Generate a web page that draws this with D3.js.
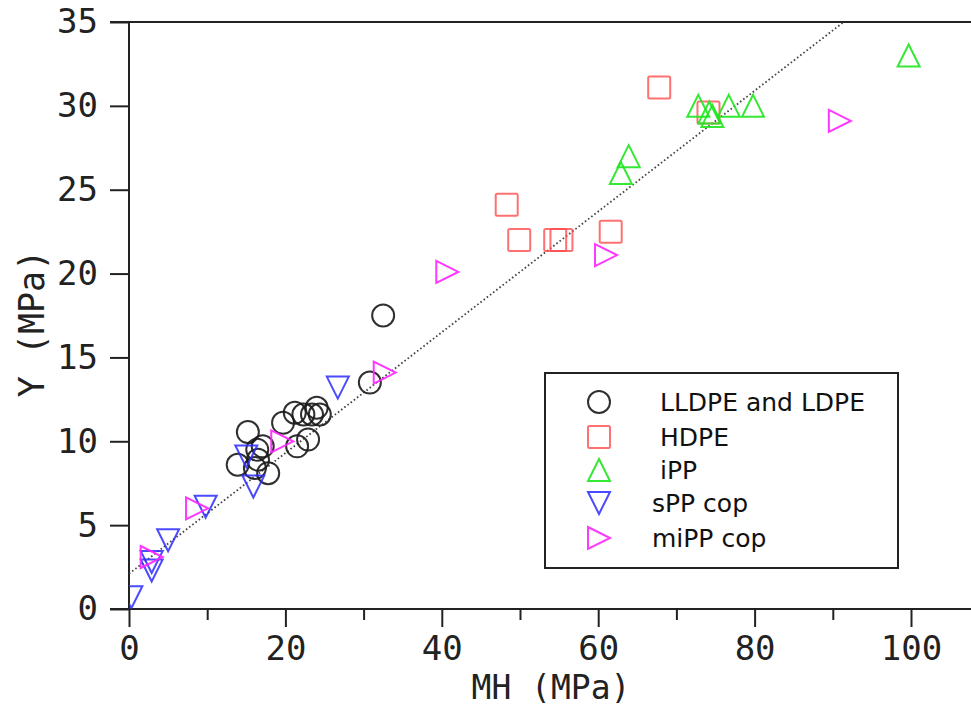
<!DOCTYPE html>
<html>
<head>
<meta charset="utf-8">
<script src="https://cdn.jsdelivr.net/npm/d3@7/dist/d3.min.js"></script>
<style>
  html, body { margin: 0; padding: 0; background: #fff; }
  svg { display: block; }
</style>
</head>
<body>
<svg id="chart" width="971" height="707"></svg>
<script>
// ---- data ----
const lldpeX = [32.5, 30.8, 15.2, 13.9, 16.4, 16.5, 16.1, 17.8, 17.1, 19.7, 21.5, 22.9, 21.2, 22.3, 23.4, 24.0, 24.4];
const lldpeY = [17.5, 13.5, 10.55, 8.6, 9.5, 8.9, 8.4, 8.1, 9.7, 11.1, 9.7, 10.1, 11.7, 11.6, 11.6, 12.0, 11.6];
const hdpeX = [48.3, 49.9, 54.5, 55.3, 61.6, 67.8, 74.1];
const hdpeY = [24.1, 22.0, 22.0, 22.0, 22.5, 31.1, 29.6];
const ippX = [99.7, 62.9, 63.9, 72.8, 74.2, 74.6, 76.7, 79.8];
const ippY = [33.0, 26.0, 27.0, 30.0, 29.6, 29.4, 30.0, 30.0];
const sppX = [26.7, 15.0, 15.9, 9.8, 5.0, 2.9, 2.9, 0.3];
const sppY = [13.2, 9.1, 7.3, 6.1, 4.1, 2.8, 2.3, 0.7];
const mippX = [32.7, 19.6, 8.7, 2.9, 40.7, 61.0, 90.9];
const mippY = [14.1, 10.0, 6.0, 3.1, 20.1, 21.1, 29.1];
const fitIntercept = 2.1;
const fitSlope = 0.36;
const xTicks = [0, 20, 40, 60, 80, 100];
const xMinorTicks = [10, 30, 50, 70, 90];
const yTicks = [0, 5, 10, 15, 20, 25, 30, 35];
const seriesNames = ["LLDPE and LDPE", "HDPE", "iPP", "sPP cop", "miPP cop"];

(function () {
// ---- layout ----
const svg = d3.select("#chart");
const mLeft = 129, mTop = 22, mBottom = 609;
const x = d3.scaleLinear().domain([0, 110]).range([mLeft, mLeft + 7.82 * 110]);
const y = d3.scaleLinear().domain([0, 35]).range([mBottom, mTop]);

const monoFont = "'DejaVu Sans Mono', monospace";

// clip
svg.append("defs").append("clipPath").attr("id", "clip")
  .append("rect").attr("x", mLeft).attr("y", mTop).attr("width", 971 - mLeft).attr("height", mBottom - mTop);

// top frame
svg.append("line").attr("x1", mLeft - 19).attr("x2", 971).attr("y1", y(35)).attr("y2", y(35))
  .attr("stroke", "#222").attr("stroke-width", 2);

// x axis
const xAxis = svg.append("g").attr("transform", `translate(0,${mBottom})`)
  .call(d3.axisBottom(x).tickValues(xTicks).tickSize(18).tickPadding(6).tickFormat(d3.format("d")));
svg.append("g").attr("transform", `translate(0,${mBottom})`)
  .call(d3.axisBottom(x).tickValues(xMinorTicks).tickSize(11).tickFormat(""))
  .call(g => g.select(".domain").remove());
xAxis.select(".domain").remove();
svg.append("line").attr("x1", mLeft - 19).attr("x2", 971).attr("y1", mBottom).attr("y2", mBottom)
  .attr("stroke", "#222").attr("stroke-width", 2);

// y axis
const yAxis = svg.append("g").attr("transform", `translate(${mLeft},0)`)
  .call(d3.axisLeft(y).tickValues(yTicks).tickSize(19).tickPadding(12).tickFormat(d3.format("d")));
yAxis.select(".domain").remove();
svg.append("line").attr("x1", mLeft).attr("x2", mLeft).attr("y1", mTop).attr("y2", mBottom)
  .attr("stroke", "#222").attr("stroke-width", 2);

svg.selectAll(".tick line").attr("stroke", "#222").attr("stroke-width", 2);
svg.selectAll(".tick text").attr("font-family", monoFont).attr("font-size", 34).attr("fill", "#222");
xAxis.selectAll(".tick text").attr("dy", "0.78em");

// axis titles
svg.append("text").attr("x", 551).attr("y", 699).attr("text-anchor", "middle")
  .attr("font-family", monoFont).attr("font-size", 33).attr("fill", "#222").text("MH (MPa)");
svg.append("text").attr("transform", `translate(44,${(mTop + mBottom) / 2 + 8}) rotate(-90)`)
  .attr("text-anchor", "middle")
  .attr("font-family", monoFont).attr("font-size", 35).attr("fill", "#222").text("Y (MPa)");

// fit line
const plot = svg.append("g").attr("clip-path", "url(#clip)");
plot.append("line")
  .attr("x1", x(0)).attr("y1", y(fitIntercept))
  .attr("x2", x(100)).attr("y2", y(fitIntercept + fitSlope * 100))
  .attr("stroke", "#444").attr("stroke-width", 1.8).attr("stroke-dasharray", "1.6,2.4");

// symbols
const s = 11;
const shapes = {
  circle: g => g.append("circle").attr("r", s),
  square: g => g.append("rect").attr("x", -s).attr("y", -s).attr("width", 2 * s).attr("height", 2 * s).attr("rx", 1.5),
  up: g => g.append("path").attr("d", `M0,${-s}L${s},${s}L${-s},${s}Z`),
  down: g => g.append("path").attr("d", `M${-s},${-s}L${s},${-s}L0,${s}Z`),
  right: g => g.append("path").attr("d", `M${-s},${-s}L${s},0L${-s},${s}Z`)
};
const series = [
  { xs: lldpeX, ys: lldpeY, shape: "circle", color: "#1a1a1a", op: 0.9 },
  { xs: hdpeX, ys: hdpeY, shape: "square", color: "#ff4d4d", op: 0.8 },
  { xs: ippX, ys: ippY, shape: "up", color: "#1ee61e", op: 0.9 },
  { xs: sppX, ys: sppY, shape: "down", color: "#2a2aff", op: 0.85 },
  { xs: mippX, ys: mippY, shape: "right", color: "#ff22ff", op: 0.9 }
];
series.forEach(sr => {
  sr.xs.forEach((xv, i) => {
    const g = plot.append("g").attr("transform", `translate(${x(xv)},${y(sr.ys[i])})`);
    shapes[sr.shape](g).attr("fill", "none").attr("stroke", sr.color)
      .attr("stroke-width", 2).attr("stroke-opacity", sr.op);
  });
});

// legend
const lg = svg.append("g");
lg.append("rect").attr("x", 545).attr("y", 373).attr("width", 353).attr("height", 195)
  .attr("fill", "#fff").attr("stroke", "#222").attr("stroke-width", 2);
const rowY = [402, 437, 470, 503, 538];
const textX = [660, 660, 660, 652, 652];
series.forEach((sr, i) => {
  const g = lg.append("g").attr("transform", `translate(599,${rowY[i]})`);
  shapes[sr.shape](g).attr("fill", "none").attr("stroke", sr.color)
    .attr("stroke-width", 2).attr("stroke-opacity", sr.op);
  lg.append("text").attr("x", textX[i]).attr("y", rowY[i]).attr("dy", "0.36em")
    .attr("font-family", "'DejaVu Sans', sans-serif").attr("font-size", 25).attr("fill", "#111")
    .text(seriesNames[i]);
});
})();
</script>
</body>
</html>
